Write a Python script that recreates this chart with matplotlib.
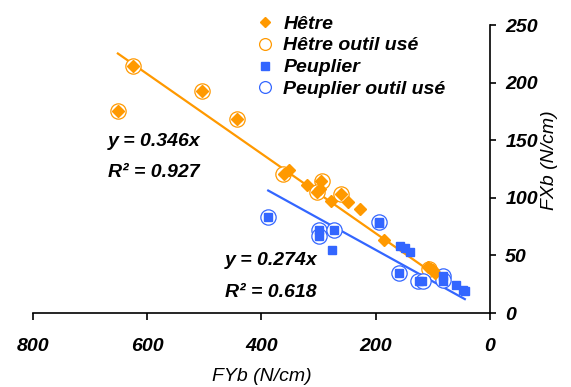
import matplotlib.pyplot as plt
from matplotlib.lines import Line2D

plt.rcParams["font.family"] = ["Liberation Sans", "DejaVu Sans"]
plt.rcParams["font.weight"] = "bold"
plt.rcParams["font.style"] = "italic"

ORANGE = "#FF9900"
BLUE = "#3366FF"

# Hêtre (diamonds)
hetre_x = [650, 624, 504, 443, 360, 351, 320, 295, 302, 298, 279, 260, 248, 227, 185, 108, 104, 100, 97]
hetre_y = [175, 214, 193, 168, 121, 124, 111, 115, 105, 108, 97, 103, 96, 90, 63, 40, 38, 37, 35]
# Hêtre outil usé (open circles)
hetre_use_x = [650, 624, 504, 443, 362, 294, 302, 260, 106]
hetre_use_y = [175, 214, 193, 168, 121, 115, 105, 103, 38]
# Peuplier (squares)
peup_x = [388, 299, 299, 273, 277, 195, 195, 158, 149, 140, 160, 125, 119, 83, 83, 60, 47, 44]
peup_y = [83, 72, 67, 72, 55, 79, 78, 58, 56, 53, 35, 28, 28, 32, 28, 24, 20, 19]
# Peuplier outil usé (open circles)
peup_use_x = [388, 299, 299, 273, 195, 160, 126, 117, 83, 83]
peup_use_y = [83, 72, 67, 72, 79, 35, 28, 28, 32, 29]

# trend lines (through origin)
slope_hetre, r2_hetre = 0.346, 0.927
slope_peup, r2_peup = 0.274, 0.618
hetre_range = [96, 651]
peup_range = [44, 388]

fig = plt.figure(figsize=(5.71, 3.87), dpi=100)
ax = fig.add_axes([0.0573, 0.1912, 0.8008, 0.7442])

ax.plot(hetre_range, [slope_hetre * v for v in hetre_range], color=ORANGE, lw=1.6, zorder=2)
ax.plot(peup_range, [slope_peup * v for v in peup_range], color=BLUE, lw=1.6, zorder=2)

ax.plot(hetre_use_x, hetre_use_y, "o", ms=11, mfc="white", mec=ORANGE, mew=0.9, zorder=3)
ax.plot(peup_use_x, peup_use_y, "o", ms=11, mfc="white", mec=BLUE, mew=0.9, zorder=3)
ax.plot(hetre_x, hetre_y, "D", ms=6.5, color=ORANGE, mec=ORANGE, zorder=4)
ax.plot(peup_x, peup_y, "s", ms=6, color=BLUE, mec=BLUE, zorder=4)

ax.text(669, 149, f"y = {slope_hetre}x", fontsize=14, ha="left", va="center")
ax.text(669, 122, f"R² = {r2_hetre}", fontsize=14, ha="left", va="center")
ax.text(464, 46, f"y = {slope_peup}x", fontsize=14, ha="left", va="center")
ax.text(464, 18, f"R² = {r2_peup}", fontsize=14, ha="left", va="center")

ax.set_xlim(800, 0)
ax.set_ylim(0, 250)
ax.set_xticks([800, 600, 400, 200, 0])
ax.set_yticks([0, 50, 100, 150, 200, 250])
ax.spines["top"].set_visible(False)
ax.spines["left"].set_visible(False)
for s in ("bottom", "right"):
    ax.spines[s].set_linewidth(1.2)
ax.yaxis.tick_right()
ax.tick_params(axis="x", direction="out", length=5, width=1.2, pad=13, labelsize=14)
ax.tick_params(axis="y", direction="out", length=4, width=1.2, pad=7, labelsize=14)
ax.set_xlabel("FYb (N/cm)", fontsize=14, va="center")
ax.xaxis.set_label_coords(0.501, -0.22)
ax.set_ylabel("FXb (N/cm)", fontsize=14, va="center")
ax.yaxis.set_label_coords(1.13, 0.53)

handles = [
    Line2D([], [], ls="none", marker="D", ms=5.5, color=ORANGE),
    Line2D([], [], ls="none", marker="o", ms=8.5, mfc="white", mec=ORANGE, mew=0.9),
    Line2D([], [], ls="none", marker="s", ms=5.5, color=BLUE),
    Line2D([], [], ls="none", marker="o", ms=8.5, mfc="white", mec=BLUE, mew=0.9),
]
labels = ["Hêtre", "Hêtre outil usé", "Peuplier", "Peuplier outil usé"]
fig.legend(handles, labels, loc="upper left", bbox_to_anchor=(255 / 571, 1 - 15 / 387),
           frameon=False, fontsize=14, handlelength=1.0, handletextpad=0.45,
           labelspacing=0.22, borderaxespad=0, borderpad=0)

fig.savefig("out.png", dpi=100)
